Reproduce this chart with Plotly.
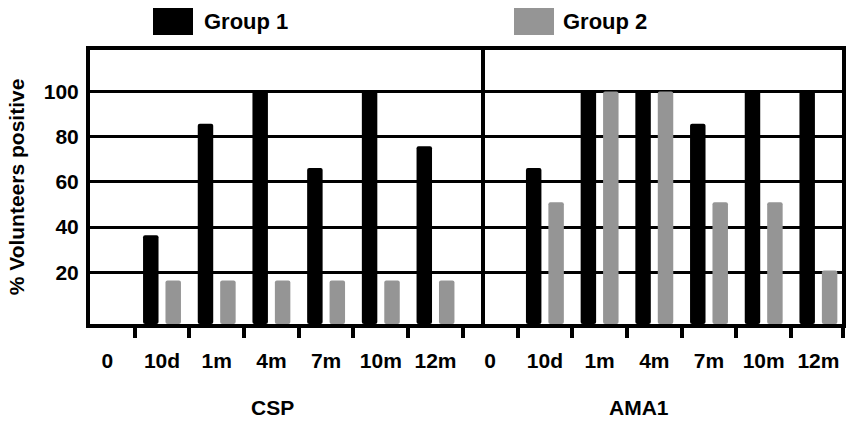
import plotly.graph_objects as go

# ---- data ----
timepoints = ["0", "10d", "1m", "4m", "7m", "10m", "12m"]
antigens = ["CSP", "AMA1"]
csp_group1 = [None, 36.4, 85.7, 100, 66.2, 100, 75.8]
csp_group2 = [None, 16.4, 16.4, 16.4, 16.4, 16.4, 16.4]
ama1_group1 = [None, 66.2, 100, 100, 85.7, 100, 100]
ama1_group2 = [None, 51, 100, 100, 51, 51, 20.8]
y_ticks = [20, 40, 60, 80, 100]

# ---- geometry (pixels) ----
W, H = 862, 423
PL, PR, PT, PB = 90, 842, 50, 324        # inner plot box
Y_MIN, Y_MAX = -2.9, 118.4
CAT_PX = 54.7                              # pixel width of one category
FIRST_CENTER = 162 - CAT_PX                # pixel centre of first category
X_MIN = (PL - FIRST_CENTER) / CAT_PX
X_MAX = X_MIN + (PR - PL) / CAT_PX
FONT = "Liberation Sans, Arial, sans-serif"
GRAY = "#959595"

def px_x(p):
    return (p - PL) / (PR - PL)

def px_y(p):
    return (PB - p) / (PB - PT)

cats = [f"{a}|{t}" for a in antigens for t in timepoints]
labels = timepoints * 2
g1 = csp_group1 + ama1_group1
g2 = csp_group2 + ama1_group2

def bar_len(vals):
    return [None if v is None else v - Y_MIN for v in vals]

fig = go.Figure()
fig.add_trace(go.Bar(x=cats, y=bar_len(g1), base=Y_MIN, name="Group 1",
                     marker=dict(color="#000000", line=dict(width=0), cornerradius=2),
                     customdata=g1, hovertemplate="%{customdata}<extra>Group 1</extra>"))
fig.add_trace(go.Bar(x=cats, y=bar_len(g2), base=Y_MIN, name="Group 2",
                     marker=dict(color=GRAY, line=dict(width=0), cornerradius=2),
                     customdata=g2, hovertemplate="%{customdata}<extra>Group 2</extra>"))

fig.update_layout(
    width=W, height=H,
    margin=dict(l=PL, r=W - PR, t=PT, b=H - PB, pad=0),
    paper_bgcolor="white", plot_bgcolor="white",
    showlegend=False,
    barmode="group", bargap=0.18, bargroupgap=0.31,
    font=dict(family=FONT, size=21, color="#000000", weight="bold"),
)

fig.update_xaxes(
    type="category", categoryorder="array", categoryarray=cats,
    tickmode="array", tickvals=cats, ticktext=labels,
    tickson="boundaries", ticks="outside", ticklen=10, tickwidth=4, tickcolor="#000",
    showgrid=False, zeroline=False,
    showline=True, linewidth=4, linecolor="#000", mirror=True,
    range=[X_MIN, X_MAX], ticklabelstandoff=15,
    tickfont=dict(family=FONT, size=21, color="#000", weight="bold"),
)
fig.update_yaxes(
    range=[Y_MIN, Y_MAX], tickmode="array", tickvals=y_ticks,
    ticks="", showgrid=True, gridcolor="#000", gridwidth=3, zeroline=False,
    showline=True, linewidth=4, linecolor="#000", mirror=True,
    ticklabelstandoff=3,
    tickfont=dict(family=FONT, size=21, color="#000", weight="bold"),
    title=dict(text="% Volunteers positive", standoff=14,
               font=dict(family=FONT, size=21, color="#000", weight="bold")),
)

shapes = [
    # divider between panels
    dict(type="line", xref="paper", yref="paper", x0=px_x(483), x1=px_x(483), y0=0, y1=1,
         line=dict(color="#000", width=4)),
    # right-end tick
    dict(type="line", xref="paper", yref="paper", x0=px_x(843), x1=px_x(843),
         y0=px_y(326), y1=px_y(338), line=dict(color="#000", width=4)),
    # legend swatches
    dict(type="rect", xref="paper", yref="paper", x0=px_x(153), x1=px_x(193),
         y0=px_y(35), y1=px_y(8), fillcolor="#000", line=dict(width=0)),
    dict(type="rect", xref="paper", yref="paper", x0=px_x(514), x1=px_x(554),
         y0=px_y(35), y1=px_y(8), fillcolor=GRAY, line=dict(width=0)),
]
fig.update_layout(shapes=shapes)

annos = [
    dict(text="Group 1", x=px_x(202), y=px_y(21.5), xanchor="left", yanchor="middle", size=22),
    dict(text="Group 2", x=px_x(561), y=px_y(21.5), xanchor="left", yanchor="middle", size=22),
    dict(text="CSP", x=px_x(272), y=px_y(407), xanchor="center", yanchor="middle", size=21),
    dict(text="AMA1", x=px_x(639), y=px_y(407), xanchor="center", yanchor="middle", size=21),
]
for a in annos:
    size = a.pop("size")
    fig.add_annotation(xref="paper", yref="paper", showarrow=False,
                       font=dict(family=FONT, size=size, color="#000", weight="bold"), **a)

fig.write_html("out.html", config={"displayModeBar": False},
               post_script="document.body.style.margin='0';document.body.style.overflow='hidden';")
